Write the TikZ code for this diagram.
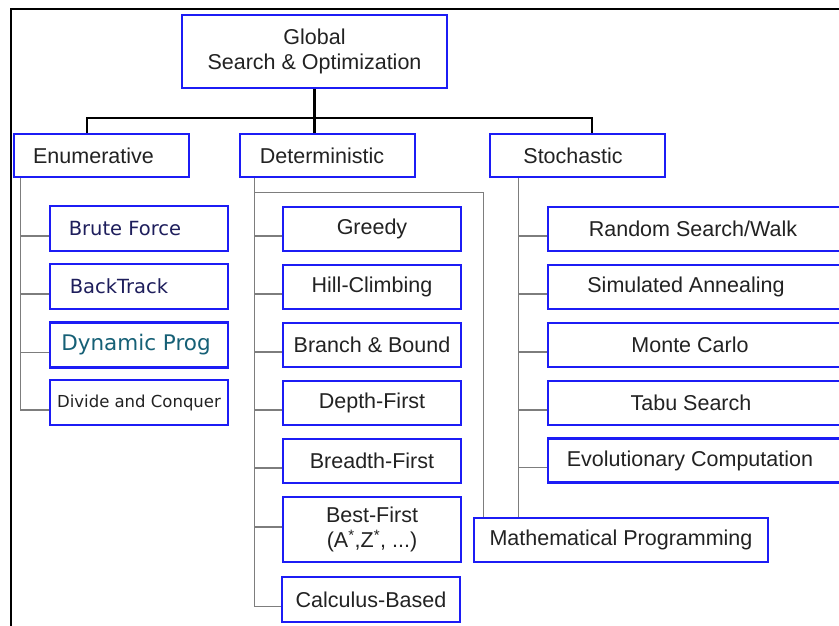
\documentclass[tikz,border=0pt]{standalone}
\usepackage{fontspec}
\setmainfont{Liberation Sans}
\newfontfamily\tahoma{DejaVu Sans}
\definecolor{boxblue}{RGB}{28,28,245}
\definecolor{txtgray}{RGB}{34,34,34}
\definecolor{navytxt}{RGB}{30,30,92}
\definecolor{progteal}{RGB}{22,96,118}
\definecolor{spinegray}{RGB}{125,125,125}
% pushes centred text to the left by half the given width
\newcommand{\padright}[1]{\hspace*{#1}\null}
\begin{document}
\begin{tikzpicture}[x=1pt,y=-1pt,
  box/.style={draw=boxblue, line width=2.4pt, fill=white, inner sep=0pt,
    text=txtgray, font=\fontsize{21.5}{25}\selectfont},
  catbox/.style={box, minimum width=175pt, minimum height=43pt},
  enumbox/.style={box, minimum width=178pt, minimum height=45pt},
  detbox/.style={box, minimum width=178pt, minimum height=44pt},
  stobox/.style={box, minimum width=297pt, minimum height=44pt},
  mainline/.style={draw=black, line width=2.6pt},
  childline/.style={draw=spinegray, line width=1.3pt},
]
\useasboundingbox (0,0) rectangle (839,626);
\fill[white] (0,0) rectangle (839,626);
\clip (0,0) rectangle (839,626);

% outer frame
\draw[line width=2.8pt] (11,9) rectangle (860,650);

% root and the three categories
\node[box, align=center, minimum width=265pt, minimum height=73pt] (root) at (314.5,51.5)
  {Global\\Search \& Optimization};
\node[catbox] (enum)  at (101.5,155.5) {Enumerative\padright{16pt}};
\node[catbox] (det)   at (327.5,155.5) {Deterministic\padright{11pt}};
\node[catbox] (stoch) at (577.5,155.5) {Stochastic\padright{9pt}};

% enumerative methods
\node[enumbox, font=\tahoma\fontsize{19.5}{22}\selectfont, text=navytxt] (brute) at (139,228.5) {Brute Force\padright{28pt}};
\node[enumbox, font=\tahoma\fontsize{19.5}{22}\selectfont, text=navytxt] (back)  at (139,286.5) {BackTrack\padright{40pt}};
\node[enumbox, font=\tahoma\fontsize{21.5}{24}\selectfont, text=progteal] (dyn) at (139,345) {Dynamic Prog\padright{6pt}};
\node[enumbox, font=\tahoma\fontsize{16.5}{19}\selectfont, text=txtgray] (divide) at (139,402.5) {Divide and Conquer};

% deterministic methods
\node[detbox] (greedy)  at (372,229) {Greedy};
\node[detbox] (hill)    at (372,287) {Hill-Climbing};
\node[detbox] (branch)  at (372,345) {Branch \& Bound};
\node[detbox] (depth)   at (372,403) {Depth-First};
\node[detbox] (breadth) at (372,461) {Breadth-First};
\node[detbox, align=center, minimum height=65pt] (best) at (372,529.5)
  {Best-First\\(A\textsuperscript{*},Z\textsuperscript{*}, ...)};
\node[detbox, minimum height=45pt] (calc) at (371,599.5) {Calculus-Based};

% stochastic methods
\node[stobox] (random) at (696.5,229)   {Random Search/Walk\padright{7pt}};
\node[stobox] (anneal) at (696.5,287)   {Simulated Annealing\padright{21pt}};
\node[stobox] (monte)  at (696.5,345)   {Monte Carlo\padright{13pt}};
\node[stobox] (tabu)   at (696.5,403)   {Tabu Search\padright{11pt}};
\node[stobox] (evo)    at (696.5,460.5) {Evolutionary Computation\padright{13pt}};

% shared by deterministic and stochastic
\node[box, minimum width=294pt, minimum height=44pt] (math) at (621,540) {Mathematical Programming};

% top-level tree
\coordinate (bus) at (314.5,118);
\draw[mainline] (root.south) -- (root.south |- det.north);
\draw[mainline] ([xshift=-14.5pt]enum.north) |- (bus) -| ([xshift=14.5pt]stoch.north);

% spines below the categories
\coordinate (es) at ([xshift=8pt]enum.south west);
\coordinate (ds) at ([xshift=16pt]det.south west);
\coordinate (ss) at ([xshift=29.5pt]stoch.south west);

\foreach \n in {brute,back,dyn,divide}
  \draw[childline] ([yshift=-7.5pt]\n.west) -| (es);
\foreach \n in {greedy,hill,branch,depth,breadth,calc}
  \draw[childline] ([yshift=-7pt]\n.west) -| (ds);
\draw[childline] ([yshift=2.5pt]best.west) -| (ds);
\foreach \n in {random,anneal,monte,tabu,evo}
  \draw[childline] ([yshift=-7pt]\n.west) -| (ss);

\draw[childline] (ds) -- ++(0,14) -| ([xshift=11pt]math.north west);
\draw[childline] (ss) -- (ss |- math.north);
\end{tikzpicture}
\end{document}
